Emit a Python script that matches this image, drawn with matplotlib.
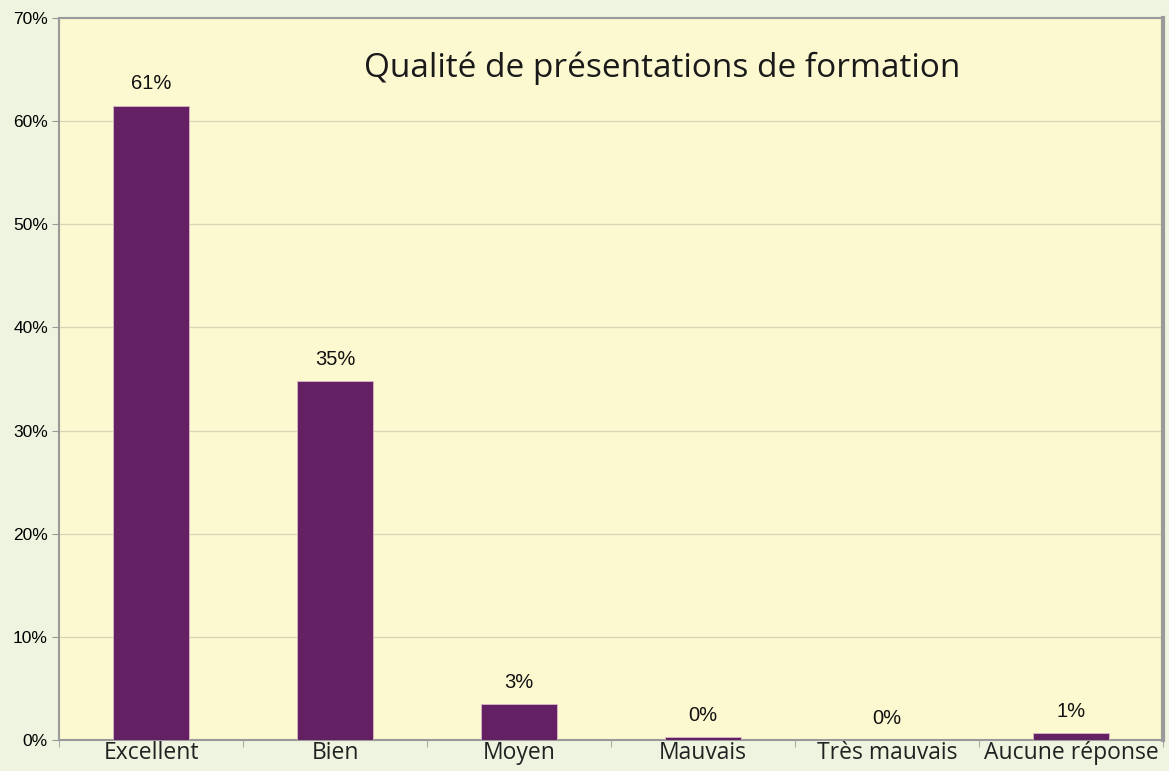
import matplotlib.pyplot as plt
import numpy as np

categories = ['Excellent', 'Bien', 'Moyen', 'Mauvais', 'Très mauvais', 'Aucune réponse']
values = [61.5, 34.8, 3.5, 0.25, 0.0, 0.65]
labels = ['61%', '35%', '3%', '0%', '0%', '1%']
yticks = [0, 10, 20, 30, 40, 50, 60, 70]

fig = plt.figure(figsize=(11.69, 7.71), dpi=100, facecolor='#eef4df')
ax = fig.add_axes([59 / 1169, 31 / 771, 1104 / 1169, 722 / 771])
ax.set_facecolor('#fcf8d0')

x = np.arange(len(categories))
ax.bar(x, values, width=0.41, color='#632062', edgecolor='#d8b8c8', linewidth=0.6, zorder=3)

for xi, v, lab in zip(x, values, labels):
    ax.text(xi, v + 1.2, lab, ha='center', va='bottom', fontsize=14.5,
            family='Liberation Sans', color='#111111')

ax.set_xlim(-0.5, len(categories) - 0.5)
ax.set_ylim(0, 70)
ax.set_yticks(yticks)
ax.set_yticklabels([f'{t}%' for t in yticks], family='Liberation Sans', fontsize=12.5)
ax.yaxis.grid(True, color='#d9d5b2', linewidth=0.9, zorder=0)

# category labels centred, ticks at the boundaries
ax.set_xticks(x)
ax.set_xticklabels(categories, family='Open Sans', fontsize=16.5, color='#222222')
ax.tick_params(axis='x', length=0, pad=1)
ax.set_xticks(np.arange(len(categories) + 1) - 0.5, minor=True)
ax.tick_params(axis='x', which='minor', length=5, color='#999999')
ax.tick_params(axis='y', length=5, color='#999999', pad=3)

for s in ['left', 'bottom', 'top']:
    ax.spines[s].set_color('#9a9a9a')
    ax.spines[s].set_linewidth(1.5)
ax.spines['right'].set_color('#9a9a9a')
ax.spines['right'].set_linewidth(3)

ax.text(0.546, 0.93, 'Qualité de présentations de formation', transform=ax.transAxes,
        ha='center', va='center', fontsize=24, family='Open Sans', color='#1a1a1a')

fig.savefig('out.png', dpi=100, facecolor=fig.get_facecolor())
